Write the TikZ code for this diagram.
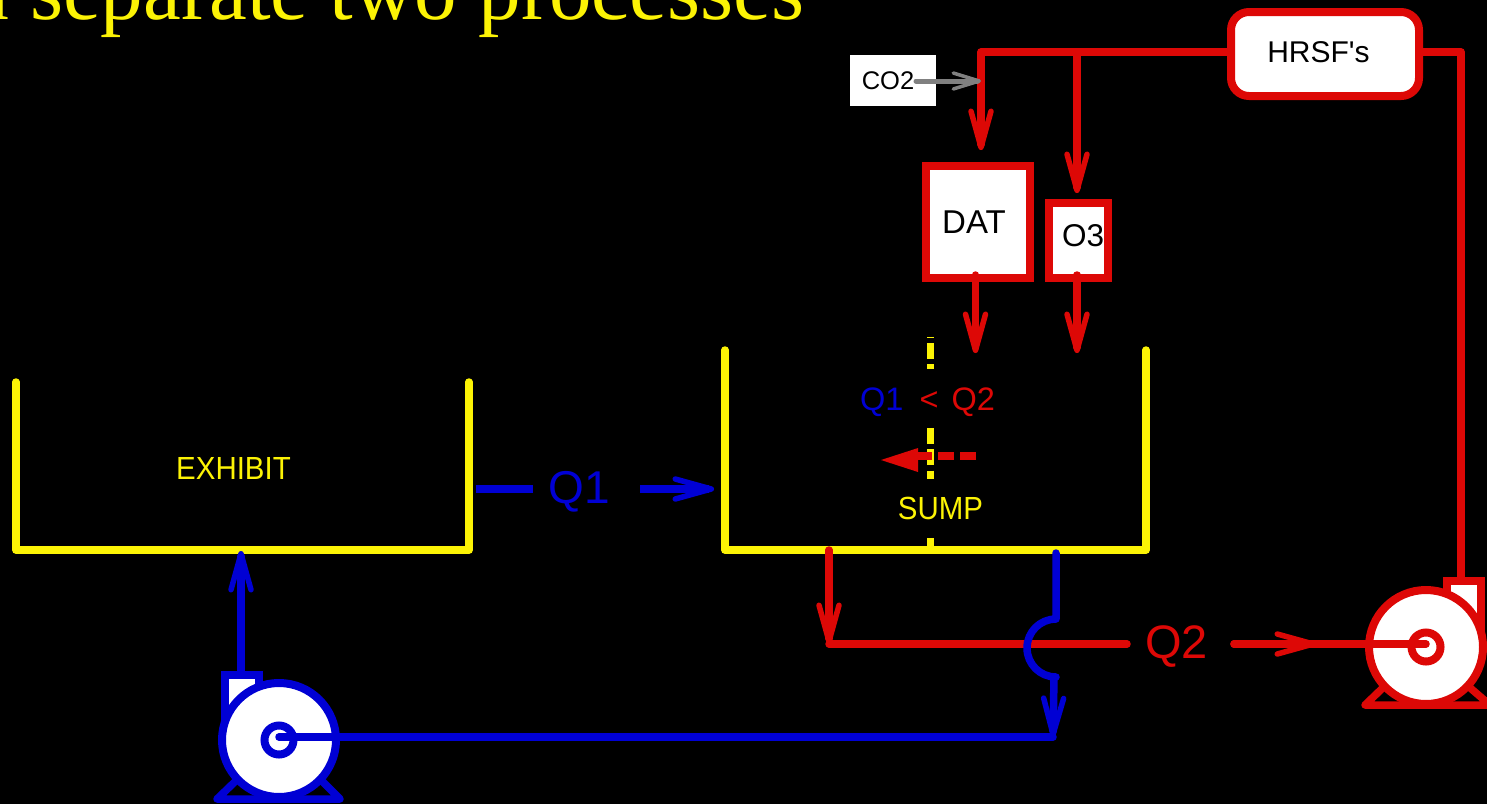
\documentclass[tikz,border=0pt]{standalone}
\usepackage{fontspec}
\setmainfont{Liberation Sans}
\newfontfamily\titlefont{Liberation Serif}
\newfontfamily\plainsans{Liberation Sans}
\usetikzlibrary{arrows.meta}
\definecolor{mred}{HTML}{DD0806}
\definecolor{mblue}{HTML}{0000D4}
\definecolor{myel}{HTML}{FCF305}
\definecolor{mgray}{HTML}{808080}
\tikzset{
  pipe/.style={line width=7.5pt,line cap=round,line join=round},
  redpipe/.style={pipe,draw=mred},
  bluepipe/.style={pipe,draw=mblue},
  tank/.style={pipe,draw=myel},
  barb/.style={-{Straight Barb[length=36pt,width=20pt,round,line width=5.5pt]}},
  smallbarb/.style={-{Straight Barb[length=26pt,width=16pt,round,line width=3.5pt]}},
  unitbox/.style={draw=mred,fill=white,line width=8pt,inner sep=0pt,rectangle},
  txt/.style={inner sep=0pt,font=\fontsize{#1}{#1}\selectfont},
  tallyel/.style={inner sep=0pt,text=myel,font=\fontsize{32}{32}\selectfont\addfontfeature{FakeStretch=0.92}},
  maskbox/.style={fill=black,inner sep=0pt,rectangle},
  pumpbody/.style={fill=white,line width=8pt,line join=miter},
}
\begin{document}
\begin{tikzpicture}[x=1pt,y=-1pt]
\useasboundingbox (0,0) rectangle (1487,804);
\fill[black] (0,0) rectangle (1487,804);
\begin{scope}
\clip (0,0) rectangle (1487,804);
\node[anchor=base west,inner sep=0pt,text=myel,font=\titlefont\fontsize{85}{85}\selectfont] (title) at (-29,19) {a separate two processes};

% dashed divider
\coordinate (divtop) at (930,337);
\coordinate (divbot) at (930,550);
\draw[myel,line width=7pt,dash pattern=on 16pt off 5.25pt,dash phase=15.25pt] (divtop) -- (divbot);
\node[maskbox,minimum width=170pt,minimum height=59pt] (ratiobg) at (940,398.5) {};
\node[maskbox,minimum width=100pt,minimum height=59pt] (sumpbg) at (940,508.5) {};

% tanks
\coordinate (e1) at (16,382); \coordinate (e2) at (16,550); \coordinate (e3) at (469,550); \coordinate (e4) at (469,382);
\coordinate (s1) at (725,350); \coordinate (s2) at (725,550); \coordinate (s3) at (1146,550); \coordinate (s4) at (1146,350);
\draw[tank] (e1) -- (e2) -- (e3) -- (e4);
\draw[tank] (s1) -- (s2) -- (s3) -- (s4);
\node[tallyel] (exhibit) at (233.5,468) {EXHIBIT};
\node[tallyel] (sump) at (940.5,508) {SUMP};

% ratio text
\node[txt=32.5,anchor=base west] (ratio) at (860,410) {\textcolor{mblue}{Q1}\hspace{16pt}\textcolor{mred}{<\hspace{13pt}Q2}};

% units
\node[unitbox,minimum width=104pt,minimum height=112pt] (dat) at (978,222) {};
\node[unitbox,minimum width=59pt,minimum height=75pt] (othree) at (1078.5,240.5) {};
\node[txt=33] (dattxt) at (974,222) {DAT};
\node[txt=31.5] (othreetxt) at (1083,236) {O3};
\node[unitbox,rounded corners=18pt,minimum width=188pt,minimum height=84pt] (hrsf) at (1325,54) {};
\node[txt=30] (hrsftxt) at (1318.5,52) {\plainsans HRSF's};
\node[rectangle,fill=white,minimum width=86pt,minimum height=51pt,inner sep=0pt] (cotwo) at (893,80.5) {};
\node[txt=25.5] (cotwotxt) at (888,81) {CO2};

% red feed lines
\coordinate (hl) at (1229,52); \coordinate (c1) at (981,52); \coordinate (dattop) at (981,150);
\coordinate (c2) at (1077,52); \coordinate (o3top) at (1077,193);
\coordinate (hr) at (1421,52); \coordinate (c3) at (1461,52); \coordinate (rpumpin) at (1461,581);
\draw[redpipe,barb] (hl) -- (c1) -- (dattop);
\draw[redpipe,barb] (c2) -- (o3top);
\draw[redpipe] (hr) -- (c3) -- (rpumpin);
\coordinate (datout) at (975.5,275); \coordinate (datdown) at (975.5,353);
\coordinate (o3out) at (1077,275); \coordinate (o3down) at (1077,353);
\draw[redpipe,barb] (datout) -- (datdown);
\draw[redpipe,barb] (o3out) -- (o3down);
\coordinate (coout) at (916,81); \coordinate (coin) at (981,81);
\draw[mgray,line width=5pt,line cap=round,smallbarb] (coout) -- (coin);

% reversed flow
\coordinate (revs) at (976,456); \coordinate (reve) at (918,456);
\coordinate (hA) at (881,460); \coordinate (hB) at (918,448); \coordinate (hC) at (918,472);
\draw[mred,line width=8pt,dash pattern=on 16pt off 6pt] (revs) -- (reve);
\fill[mred] (hA) -- (hB) -- (hC) -- cycle;

% Q1
\node[txt=46,text=mblue] (qone) at (579.5,491.5) {Q1};
\coordinate (q1s) at (476,489); \coordinate (q1a) at (533,489); \coordinate (q1b) at (640,489); \coordinate (q1e) at (714,489);
\draw[mblue,line width=7.5pt] (q1s) -- (q1a);
\draw[bluepipe,barb,line cap=butt] (q1b) -- (q1e);

% Q2 circuit
\coordinate (rd1) at (829,550); \coordinate (rd2) at (829,644);
\coordinate (ra) at (1127,644); \coordinate (rb) at (1234,644); \coordinate (rc) at (1316,644); \coordinate (rd) at (1426,644);
\node[txt=47,text=mred] (qtwo) at (1176.5,646.5) {Q2};
\draw[redpipe,barb] (rd1) -- (rd2);
\draw[redpipe] (rd2) -- (ra);

% blue jump and return
\coordinate (b1) at (1056,553); \coordinate (b2) at (1056,619); \coordinate (b3) at (1054,677); \coordinate (b4) at (1053,737);
\draw[bluepipe] (b1) -- (b2) arc[start angle=-90,end angle=-270,radius=29];
\draw[bluepipe,barb] (b3) -- (b4);

% red pump
\coordinate (rp) at (1426,647);
\draw[mred,pumpbody] (1447,581) rectangle (1481,630);
\draw[mred,line width=7.5pt,line cap=round,line join=round] (1365,705) -- (1391,680) (1365,705) -- (1490,705) (1490,705) -- (1461,680);
\node[circle,draw=mred,fill=white,line width=8pt,minimum size=114pt,inner sep=0pt] (rpump) at (rp) {};
\node[circle,draw=mred,line width=8pt,minimum size=29pt,inner sep=0pt] (rhub) at (rp) {};
\draw[redpipe] (rb) -- (rd);
\draw[redpipe,barb] (rb) -- (rc);

% blue pump
\coordinate (bp) at (279,740);
\draw[mblue,pumpbody] (225,675) rectangle (259,725);
\draw[mblue,line width=7.5pt,line cap=round,line join=round] (217,799) -- (244,773) (217,799) -- (340,799) (340,799) -- (314,773);
\node[circle,draw=mblue,fill=white,line width=8pt,minimum size=114pt,inner sep=0pt] (bpump) at (bp) {};
\node[circle,draw=mblue,line width=8pt,minimum size=29pt,inner sep=0pt] (bhub) at (bp) {};
\coordinate (bc) at (279,737); \coordinate (bup) at (241,672); \coordinate (bupe) at (241,551);
\draw[bluepipe] (bc) -- (b4);
\draw[bluepipe,barb] (bup) -- (bupe);
\end{scope}
\end{tikzpicture}
\end{document}
